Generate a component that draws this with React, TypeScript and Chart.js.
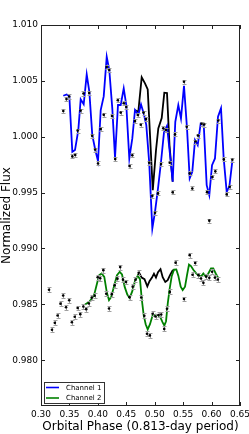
import React, { useEffect, useRef } from "react";
import { Chart, registerables } from "chart.js";

Chart.register(...registerables);

const xTicks = [0.3, 0.35, 0.4, 0.45, 0.5, 0.55, 0.6, 0.65];
const yTicks = [0.98, 0.985, 0.99, 0.995, 1.0, 1.005, 1.01];

// Channel 1 observations
const ch1Phase = [0.3392, 0.3448, 0.3496, 0.3551, 0.3602, 0.3645, 0.3695, 0.3747, 0.3848, 0.39, 0.3953, 0.4003, 0.405, 0.4103, 0.4156, 0.4201, 0.4249, 0.4305, 0.4351, 0.4402, 0.4455, 0.45, 0.4557, 0.4606, 0.4653, 0.4703, 0.4755, 0.4803, 0.4847, 0.4903, 0.4958, 0.5005, 0.5058, 0.5111, 0.5151, 0.5198, 0.5264, 0.5316, 0.5357, 0.5515, 0.5563, 0.5615, 0.5661, 0.5717, 0.5761, 0.5823, 0.587, 0.592, 0.596, 0.6016, 0.6066, 0.6117, 0.6215, 0.6266, 0.6319, 0.6365];
const ch1Flux = [1.0023, 1.00337, 1.0036, 0.99824, 0.99836, 1.00055, 1.00234, 1.00387, 1.00391, 1.00008, 0.99885, 0.99761, 1.00069, 1.00196, 1.00624, 1.00597, 1.00185, 0.998, 1.00327, 1.00216, 1.003, 1.00266, 0.99737, 0.99834, 1.0014, 1.00194, 1.00107, 1.00216, 1.00158, 0.99767, 0.99471, 0.99319, 0.99493, 0.99755, 1.00075, 1.0006, 0.99767, 0.99502, 1.00021, 1.00492, 1.00089, 0.99672, 0.99537, 0.99957, 1.0001, 1.00116, 1.00109, 0.99504, 0.99249, 0.99639, 0.9969, 1.00145, 0.99797, 0.99484, 0.99552, 0.99794];
const ch1Err = 0.00018;

// Channel 1 model (blue)
const model1Phase = [0.3392, 0.3452, 0.3498, 0.3551, 0.3598, 0.3656, 0.3698, 0.3751, 0.3804, 0.385, 0.3902, 0.3955, 0.4003, 0.405, 0.4103, 0.4156, 0.4201, 0.4254, 0.4302, 0.4354, 0.4402, 0.4455, 0.45, 0.4553, 0.4606, 0.4653, 0.4711, 0.4759, 0.4806, 0.4852, 0.4903, 0.4958, 0.5005, 0.5058, 0.5111, 0.5163, 0.5216, 0.5264, 0.5316, 0.5362, 0.5415, 0.5462, 0.5515, 0.5568, 0.5615, 0.5661, 0.5709, 0.5756, 0.5809, 0.5862, 0.5914, 0.596, 0.6008, 0.606, 0.6113, 0.6166, 0.6213, 0.6266, 0.6312, 0.6365];
const model1Flux = [1.00367, 1.00379, 1.00364, 0.99865, 0.99881, 1.0006, 1.00335, 1.0029, 1.00558, 1.00403, 1.00015, 0.99881, 0.99782, 1.00239, 1.00361, 1.00716, 1.00597, 1.00254, 0.99812, 1.00284, 1.00284, 1.00433, 1.00284, 0.99806, 0.99985, 1.00239, 1.00194, 1.0029, 1.00209, 1.00104, 0.9977, 0.99179, 0.99328, 0.99537, 0.99776, 1.00039, 1.00098, 0.99865, 0.99597, 1.00134, 1.00284, 1.00164, 1.00456, 1.00075, 0.99627, 0.99686, 0.9997, 0.99925, 1.0012, 1.00113, 0.99567, 0.99477, 0.99746, 0.99806, 1.00179, 1.00254, 0.99806, 0.99507, 0.99552, 0.99782];

// Channel 1 alternative model (black)
const alt1Phase = [0.4653, 0.4711, 0.4771, 0.4829, 0.4877, 0.4966, 0.5023, 0.5063, 0.5123, 0.5169, 0.5216, 0.526, 0.5316];
const alt1Flux = [1.00239, 1.00221, 1.00532, 1.00478, 1.00424, 0.99522, 0.99881, 1.00075, 1.00167, 1.00394, 1.00391, 0.99925, 0.99597];

// Channel 2 observations
const ch2Phase = [0.3141, 0.3193, 0.3243, 0.3292, 0.3343, 0.339, 0.344, 0.3496, 0.3543, 0.3593, 0.3645, 0.3691, 0.3744, 0.3795, 0.3842, 0.3893, 0.3944, 0.3997, 0.4041, 0.4096, 0.4147, 0.4196, 0.4245, 0.4296, 0.4345, 0.4393, 0.4442, 0.4495, 0.4557, 0.4613, 0.4662, 0.4718, 0.4764, 0.4817, 0.4864, 0.4914, 0.4963, 0.5014, 0.5067, 0.5114, 0.5167, 0.5216, 0.5265, 0.5367, 0.5515, 0.5615, 0.5665, 0.5712, 0.577, 0.5814, 0.5856, 0.5907, 0.596, 0.6009, 0.6059, 0.611];
const ch2Flux = [0.98631, 0.98273, 0.98334, 0.984, 0.98506, 0.98579, 0.98474, 0.98537, 0.9834, 0.98389, 0.98467, 0.98412, 0.98481, 0.98457, 0.98508, 0.9856, 0.98577, 0.98743, 0.98734, 0.98806, 0.98595, 0.98463, 0.98591, 0.98671, 0.9873, 0.98833, 0.98721, 0.987, 0.98564, 0.98658, 0.98721, 0.98783, 0.98561, 0.98397, 0.98237, 0.98222, 0.98416, 0.98391, 0.98405, 0.98409, 0.9828, 0.98461, 0.98611, 0.98873, 0.98548, 0.9894, 0.98765, 0.9887, 0.98761, 0.98731, 0.98692, 0.98748, 0.98737, 0.98792, 0.98739, 0.98722];
const ch2Err = 0.00022;

// Channel 2 model (green)
const model2Phase = [0.3774, 0.385, 0.3892, 0.3937, 0.3985, 0.4025, 0.4068, 0.4113, 0.4156, 0.4196, 0.4236, 0.4289, 0.4337, 0.4384, 0.4425, 0.4472, 0.4518, 0.456, 0.4606, 0.4653, 0.4701, 0.4741, 0.4771, 0.4806, 0.4841, 0.4877, 0.4917, 0.4961, 0.5014, 0.5058, 0.5102, 0.5137, 0.5169, 0.5199, 0.523, 0.5264, 0.5299, 0.5339, 0.538, 0.5415, 0.5457, 0.5492, 0.5533, 0.5568, 0.5603, 0.5638, 0.5679, 0.5726, 0.5767, 0.5814, 0.5855, 0.5897, 0.5943, 0.599, 0.603, 0.6073, 0.6118];
const model2Flux = [0.98499, 0.98522, 0.98552, 0.98588, 0.98687, 0.98761, 0.98776, 0.98746, 0.98611, 0.98537, 0.98567, 0.98671, 0.98761, 0.98791, 0.98767, 0.98656, 0.98588, 0.98558, 0.98618, 0.98707, 0.98755, 0.98725, 0.98552, 0.98403, 0.98322, 0.98276, 0.98322, 0.98398, 0.98407, 0.98403, 0.9838, 0.9834, 0.98309, 0.98349, 0.9851, 0.98642, 0.98752, 0.9881, 0.98812, 0.98757, 0.98658, 0.98627, 0.98658, 0.98761, 0.98855, 0.98842, 0.9881, 0.98779, 0.98761, 0.98748, 0.98776, 0.98748, 0.98776, 0.98821, 0.98821, 0.98776, 0.98737];

// Channel 2 alternative model (black)
const alt2Phase = [0.4701, 0.4729, 0.4771, 0.482, 0.487, 0.4908, 0.4952, 0.4987, 0.5022, 0.5058, 0.5102, 0.514, 0.5186, 0.5228, 0.5269, 0.5313, 0.5339];
const alt2Flux = [0.98755, 0.98779, 0.98739, 0.98725, 0.9866, 0.98707, 0.98739, 0.98774, 0.98739, 0.98788, 0.98815, 0.98743, 0.98701, 0.98716, 0.98761, 0.98801, 0.9881];

const FONT = "'DejaVu Sans', Verdana, sans-serif";

function pairs(xs: number[], ys: number[]) {
  return xs.map((x, i) => ({ x, y: ys[i] }));
}

const errorBarPlugin = {
  id: "errorBars",
  beforeDatasetDraw(chart: any, args: any) {
    const ds = chart.data.datasets[args.index];
    if (!ds.errors) return;
    const { ctx } = chart;
    const xs = chart.scales.x;
    const ys = chart.scales.y;
    ctx.save();
    ctx.strokeStyle = "#a0a0a0";
    ctx.lineWidth = 1;
    ds.data.forEach((p: any, i: number) => {
      const px = Math.round(xs.getPixelForValue(p.x)) + 0.5;
      const e = ds.errors[i];
      const y1 = Math.round(ys.getPixelForValue(p.y + e)) + 0.5;
      const y2 = Math.round(ys.getPixelForValue(p.y - e)) + 0.5;
      ctx.beginPath();
      ctx.moveTo(px, y1);
      ctx.lineTo(px, y2);
      ctx.moveTo(px - 2, y1);
      ctx.lineTo(px + 2, y1);
      ctx.moveTo(px - 2, y2);
      ctx.lineTo(px + 2, y2);
      ctx.stroke();
    });
    ctx.restore();
  },
};

const framePlugin = {
  id: "frame",
  afterDatasetsDraw(chart: any) {
    const { ctx, chartArea: a } = chart;
    const xs = chart.scales.x;
    const ys = chart.scales.y;
    ctx.save();
    ctx.strokeStyle = "#222";
    ctx.lineWidth = 1;
    ctx.strokeRect(a.left + 0.5, a.top + 0.5, a.right - a.left - 1, a.bottom - a.top - 1);
    ctx.beginPath();
    xs.ticks.forEach((t: any) => {
      const px = Math.round(xs.getPixelForValue(t.value)) + 0.5;
      ctx.moveTo(px, a.bottom);
      ctx.lineTo(px, a.bottom - 4);
      ctx.moveTo(px, a.top);
      ctx.lineTo(px, a.top + 4);
    });
    ys.ticks.forEach((t: any) => {
      const py = Math.round(ys.getPixelForValue(t.value)) + 0.5;
      ctx.moveTo(a.left, py);
      ctx.lineTo(a.left + 4, py);
      ctx.moveTo(a.right, py);
      ctx.lineTo(a.right - 4, py);
    });
    ctx.stroke();

    // legend inside the plot, lower left
    const entries = chart.data.datasets.filter((d: any) => d.legendEntry);
    const lx = a.left + 3;
    const lh = 21;
    const lw = 60;
    const ly = a.bottom - 3 - lh;
    ctx.fillStyle = "#fff";
    ctx.fillRect(lx, ly, lw, lh);
    ctx.strokeStyle = "#333";
    ctx.strokeRect(lx + 0.5, ly + 0.5, lw, lh);
    ctx.font = `7px ${FONT}`;
    ctx.textBaseline = "middle";
    ctx.textAlign = "left";
    entries.forEach((d: any, i: number) => {
      const yy = ly + 5.5 + i * 10.5;
      ctx.strokeStyle = d.borderColor;
      ctx.lineWidth = 1.6;
      ctx.beginPath();
      ctx.moveTo(lx + 2, yy);
      ctx.lineTo(lx + 15, yy);
      ctx.stroke();
      ctx.fillStyle = "#000";
      ctx.fillText(d.label, lx + 22, yy + 0.5);
    });
    ctx.restore();
  },
};

export default function App() {
  const ref = useRef<HTMLCanvasElement | null>(null);

  useEffect(() => {
    if (!ref.current) return;
    const lineDs = (label: string, xs: number[], ys: number[], color: string, order: number, legendEntry: boolean) => ({
      label,
      data: pairs(xs, ys),
      showLine: true,
      borderColor: color,
      backgroundColor: color,
      borderWidth: 1.8,
      pointRadius: 0,
      tension: 0,
      fill: false,
      order,
      legendEntry,
    });
    const pointDs = (label: string, xs: number[], ys: number[], err: number) => ({
      label,
      data: pairs(xs, ys),
      showLine: false,
      pointRadius: 1.3,
      pointBackgroundColor: "#000",
      pointBorderWidth: 0,
      borderColor: "#000",
      order: 1,
      errors: xs.map(() => err),
    });

    const chart = new Chart(ref.current, {
      type: "scatter",
      data: {
        datasets: [
          lineDs("Channel 1 (alt)", alt1Phase, alt1Flux, "#000000", 5, false),
          lineDs("Channel 2 (alt)", alt2Phase, alt2Flux, "#000000", 5, false),
          lineDs("Channel 1", model1Phase, model1Flux, "#0000ff", 3, true),
          lineDs("Channel 2", model2Phase, model2Flux, "#008000", 3, true),
          pointDs("Channel 1 data", ch1Phase, ch1Flux, ch1Err),
          pointDs("Channel 2 data", ch2Phase, ch2Flux, ch2Err),
        ] as any,
      },
      options: {
        animation: false,
        responsive: false,
        devicePixelRatio: 1,
        events: [],
        layout: { padding: { top: 25, right: 9, left: 0, bottom: 0 } },
        plugins: { legend: { display: false }, tooltip: { enabled: false } },
        scales: {
          x: {
            type: "linear",
            min: 0.3,
            max: 0.65,
            afterBuildTicks: (s: any) => {
              s.ticks = xTicks.map((v) => ({ value: v }));
            },
            afterFit: (s: any) => {
              s.height = 28;
              s.paddingLeft = 0;
              s.paddingRight = 0;
            },
            ticks: {
              callback: (v: any) => Number(v).toFixed(2),
              font: { family: FONT, size: 9 },
              color: "#000",
              padding: 3,
              maxRotation: 0,
              autoSkip: false,
            },
            grid: { display: false, drawTicks: false },
            border: { display: false },
            title: {
              display: true,
              text: "Orbital Phase (0.813-day period)",
              font: { family: FONT, size: 12 },
              color: "#000",
              padding: 0,
            },
          },
          y: {
            type: "linear",
            min: 0.9759,
            max: 1.01,
            afterBuildTicks: (s: any) => {
              s.ticks = yTicks.map((v) => ({ value: v }));
            },
            afterFit: (s: any) => {
              s.width = 41;
              s.paddingTop = 0;
              s.paddingBottom = 0;
            },
            ticks: {
              callback: (v: any) => Number(v).toFixed(3),
              font: { family: FONT, size: 9 },
              color: "#000",
              padding: 3,
              autoSkip: false,
            },
            grid: { display: false, drawTicks: false },
            border: { display: false },
            title: {
              display: true,
              text: "Normalized Flux",
              font: { family: FONT, size: 12 },
              color: "#000",
              padding: 0,
            },
          },
        },
      } as any,
      plugins: [errorBarPlugin, framePlugin],
    });
    return () => chart.destroy();
  }, []);

  return (
    <div style={{ position: "fixed", left: 0, top: 0, width: 249, height: 434, background: "#fff" }}>
      <canvas ref={ref} width={249} height={434} style={{ display: "block" }} />
    </div>
  );
}
